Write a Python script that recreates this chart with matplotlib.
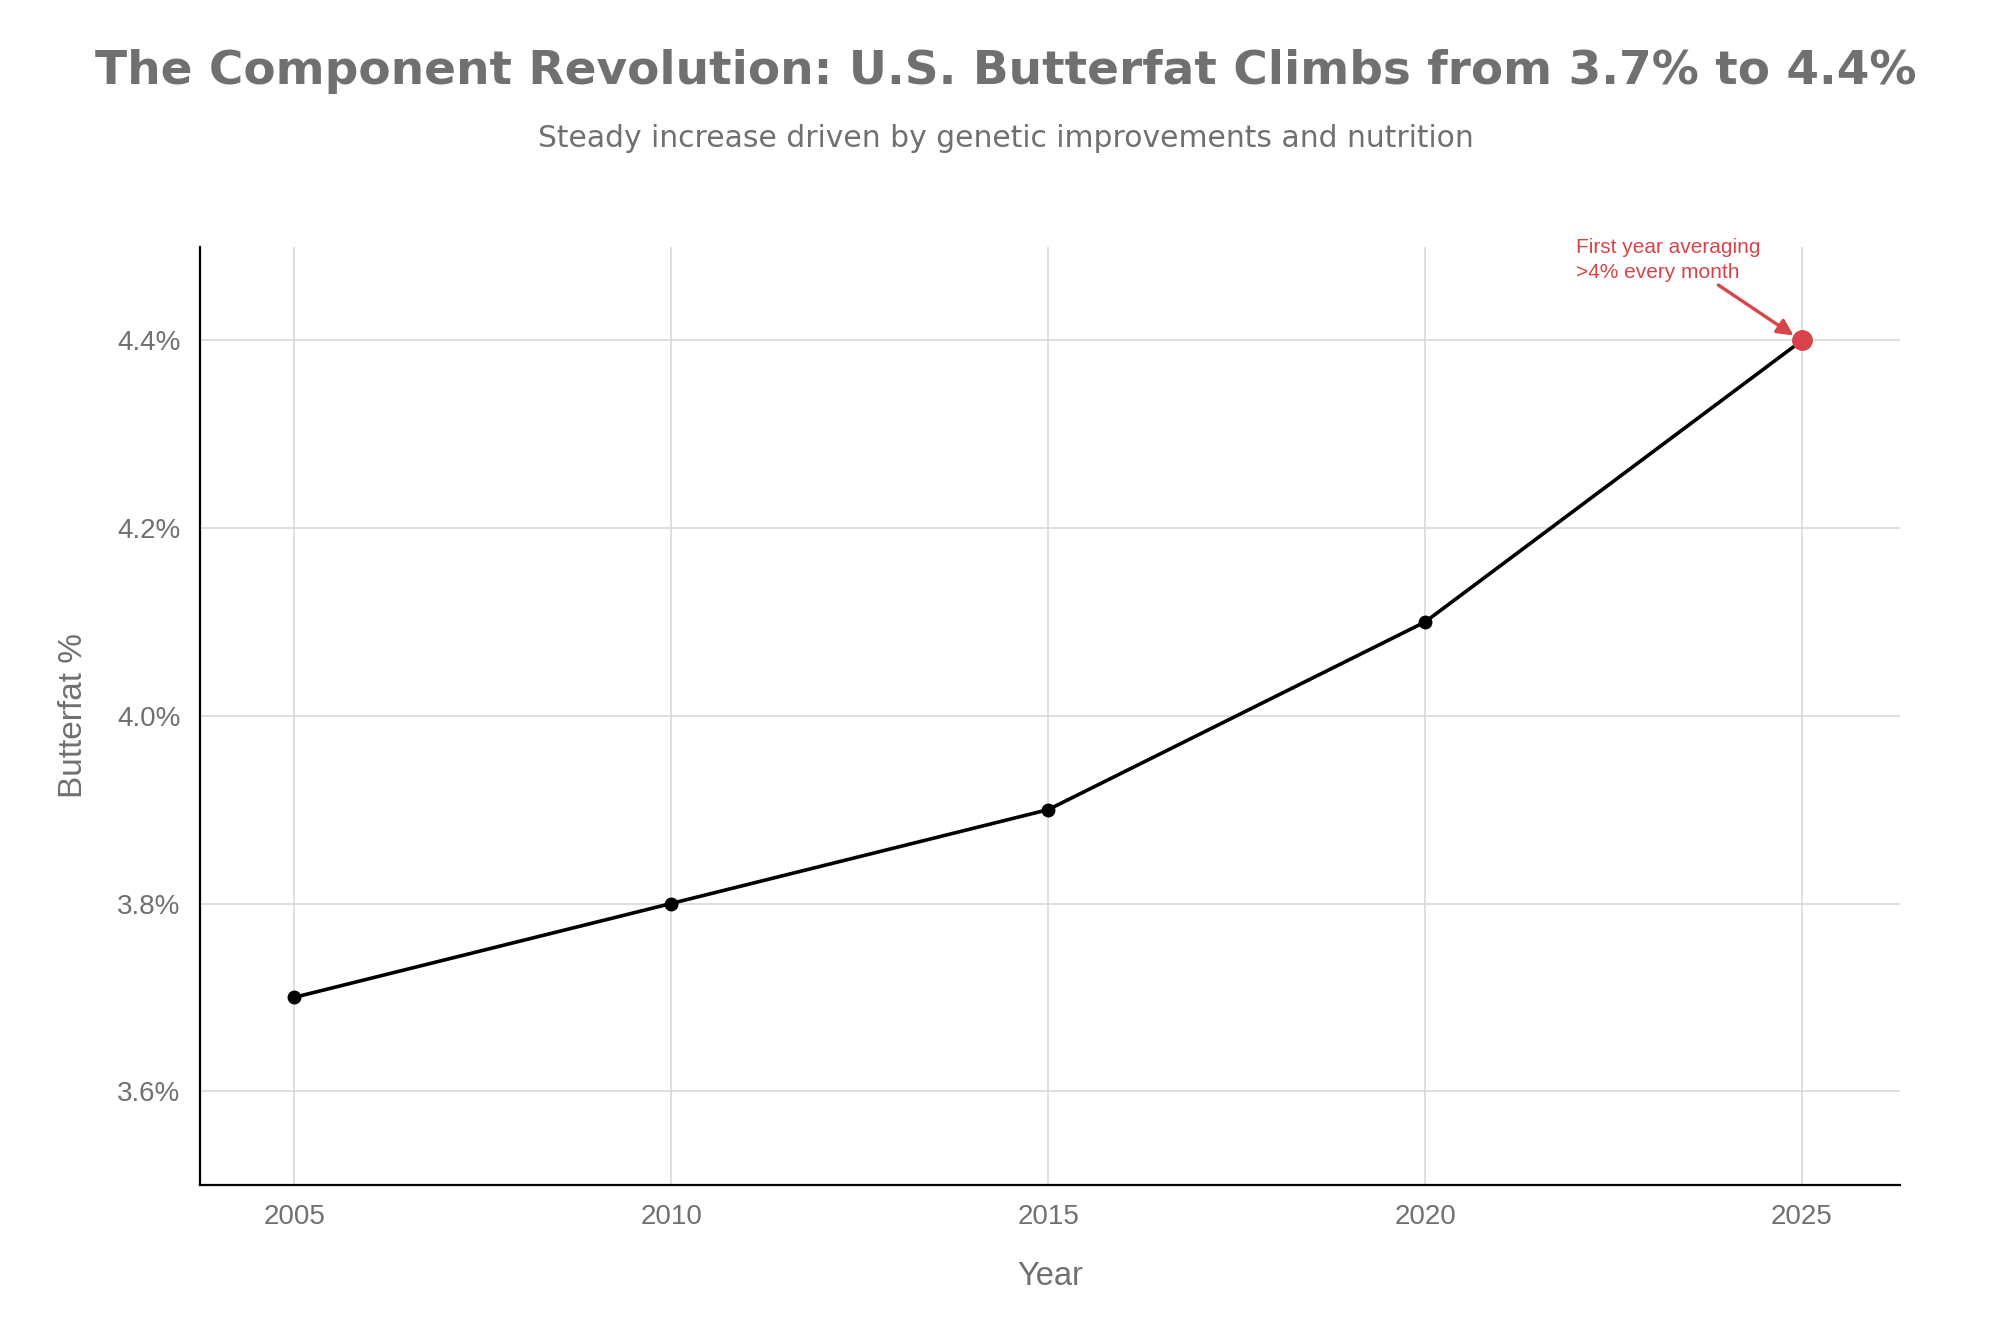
import matplotlib.pyplot as plt
from matplotlib.ticker import FuncFormatter

years = [2005, 2010, 2015, 2020, 2025]
butterfat = [3.7, 3.8, 3.9, 4.1, 4.4]
y_ticks = [3.6, 3.8, 4.0, 4.2, 4.4]

grey = '#707070'
red = '#d9434a'
tick_font = 'Liberation Sans'

fig = plt.figure(figsize=(20, 13.33), dpi=100)
ax = fig.add_axes([0.1, 0.111, 0.850, 0.704])

ax.plot(years, butterfat, color='black', lw=2.6, marker='o', markersize=9, zorder=3)
ax.plot(years[-1], butterfat[-1], 'o', color=red, markersize=14, zorder=4)

ax.annotate('First year averaging\n>4% every month',
            xy=(years[-1] - 0.05, butterfat[-1] + 0.002),
            xytext=(2022.0, 4.462),
            color=red, fontsize=15, family=tick_font,
            ha='left', va='bottom', linespacing=1.45,
            arrowprops=dict(arrowstyle='-|>', color=red, lw=2.4,
                            mutation_scale=24, shrinkA=0, shrinkB=4,
                            relpos=(0.75, 0.0)),
            annotation_clip=False, zorder=5)

ax.set_xlim(2003.75, 2026.3)
ax.set_ylim(3.5, 4.5)
ax.set_xticks(years)
ax.set_yticks(y_ticks)
ax.yaxis.set_major_formatter(FuncFormatter(lambda v, p: f'{v:.1f}%'))

ax.grid(True, color='#d9d9d9', lw=1.2)
ax.set_axisbelow(True)
for s in ['top', 'right']:
    ax.spines[s].set_visible(False)
for s in ['left', 'bottom']:
    ax.spines[s].set_color('black')
    ax.spines[s].set_linewidth(1.6)

ax.tick_params(axis='both', colors='#d9d9d9', length=0, pad=14)
for lab in ax.get_xticklabels() + ax.get_yticklabels():
    lab.set_color(grey)
    lab.set_fontsize(20)
    lab.set_family(tick_font)

ax.set_xlabel('Year', fontsize=23.5, color=grey, family=tick_font, labelpad=22)
ax.set_ylabel('Butterfat %', fontsize=24, color=grey, family=tick_font, labelpad=20)

fig.text(0.503, 0.946, 'The Component Revolution: U.S. Butterfat Climbs from 3.7% to 4.4%',
         ha='center', va='center', fontsize=33.8, fontweight='bold', color=grey,
         family='DejaVu Sans')
fig.text(0.503, 0.896, 'Steady increase driven by genetic improvements and nutrition',
         ha='center', va='center', fontsize=21.4, color=grey, family='DejaVu Sans')

fig.savefig('out.png', dpi=100, facecolor='white')
